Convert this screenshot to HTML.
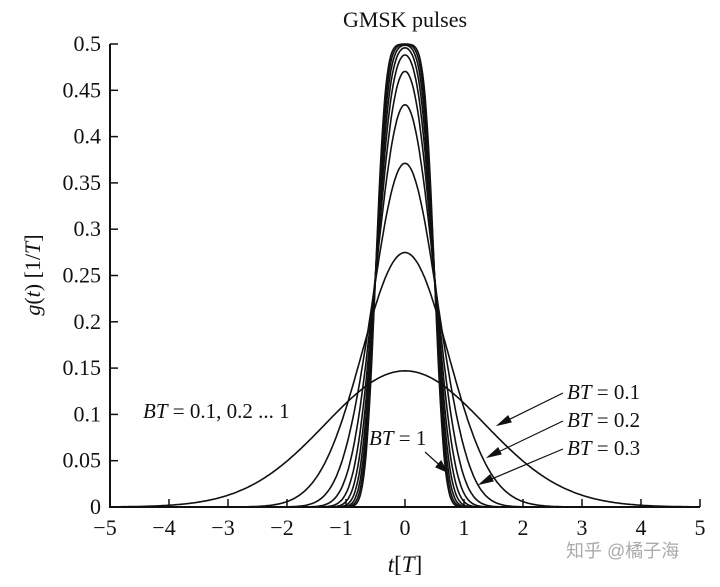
<!DOCTYPE html>
<html><head><meta charset="utf-8"><style>
body{margin:0;background:#fff}
svg text{font-family:"Liberation Serif",serif;fill:#111}
</style></head><body>
<svg id="c" width="720" height="582">
<text x="405" y="27" font-size="22" text-anchor="middle">GMSK pulses</text>
<g id="axes"></g>
<g id="curves"></g>
<text x="405" y="572" font-size="23" text-anchor="middle"><tspan font-style="italic">t</tspan>[<tspan font-style="italic">T</tspan>]</text>
<text transform="translate(40,275) rotate(-90)" font-size="22" text-anchor="middle"><tspan font-style="italic">g</tspan>(<tspan font-style="italic">t</tspan>) [1/<tspan font-style="italic">T</tspan>]</text>
<text x="143" y="418" font-size="21"><tspan font-style="italic">BT</tspan> = 0.1, 0.2 ... 1</text>
<text x="369" y="445" font-size="21"><tspan font-style="italic">BT</tspan> = 1</text>
<text x="567" y="399" font-size="21"><tspan font-style="italic">BT</tspan> = 0.1</text>
<text x="567" y="427" font-size="21"><tspan font-style="italic">BT</tspan> = 0.2</text>
<text x="567" y="455" font-size="21"><tspan font-style="italic">BT</tspan> = 0.3</text>
<g stroke="#111" stroke-width="1.2" fill="#111">
<line x1="563" y1="393" x2="500" y2="424"/><polygon points="498,425 508,416 511,422"/>
<line x1="563" y1="421" x2="490" y2="456"/><polygon points="488,457 498,448 501,454"/>
<line x1="563" y1="449" x2="482" y2="483"/><polygon points="480,484 490,475 493,481"/>
<line x1="425" y1="452" x2="445" y2="470"/><polygon points="447,472 436,467 441,461"/>
</g>
<text x="566" y="557" font-size="18" style="fill:#aaa;font-family:'Liberation Sans','Noto Sans CJK SC',sans-serif">知乎 @橘子海</text>
</svg>
<script>
const btValues=[0.1,0.2,0.3,0.4,0.5,0.6,0.7,0.8,0.9,1.0];
const xTicks=[-5,-4,-3,-2,-1,0,1,2,3,4,5];
const yTicks=[0,0.05,0.1,0.15,0.2,0.25,0.3,0.35,0.4,0.45,0.5];
const NS='http://www.w3.org/2000/svg';
const X=t=>110+(t+5)*59, Y=v=>507-v*926;
function erf(x){const s=Math.sign(x);x=Math.abs(x);const t=1/(1+0.3275911*x);
return s*(1-(((((1.061405429*t-1.453152027)*t)+1.421413741)*t-0.284496736)*t+0.254829592)*t*Math.exp(-x*x));}
function Q(x){return 0.5*(1-erf(x/Math.SQRT2));}
function g(t,b){const k=2*Math.PI*b/Math.sqrt(Math.log(2));return 0.5*(Q(k*(t-0.5))-Q(k*(t+0.5)));}
const ax=document.getElementById('axes');
function mk(tag,attrs,p){const e=document.createElementNS(NS,tag);for(const k in attrs)e.setAttribute(k,attrs[k]);p.appendChild(e);return e;}
let e=mk('path',{d:`M110 44V507H${X(5)}`,stroke:'#111','stroke-width':2,fill:'none'},ax);


xTicks.forEach(t=>{
 let l=mk('line',{x1:X(t),x2:X(t),y1:507,y2:499,stroke:'#111','stroke-width':1.5},ax);
 
 
 let tx=mk('text',{x:X(t)-(t<0?5:0),y:535,'font-size':22,'text-anchor':'middle'},ax);
 tx.textContent=t<0?'\u2212'+(-t):String(t);
 
 
});
yTicks.forEach(v=>{
 let l=mk('line',{x1:110,x2:118,y1:Y(v),y2:Y(v),stroke:'#111','stroke-width':1.5},ax);
 
 
 let tx=mk('text',{x:101,y:Y(v)+7,'font-size':22,'text-anchor':'end'},ax);
 tx.textContent=String(v);
 
 
});
const cv=document.getElementById('curves');
btValues.forEach(b=>{
 let d='';for(let t=-5;t<=5.0001;t+=0.02){d+=(d?'L':'M')+X(t).toFixed(1)+' '+Y(g(t,b)).toFixed(1);}
 let p=mk('path',{d,stroke:'#111','stroke-width':1.6,fill:'none'},cv);
 
 
});
</script>
</body></html>
